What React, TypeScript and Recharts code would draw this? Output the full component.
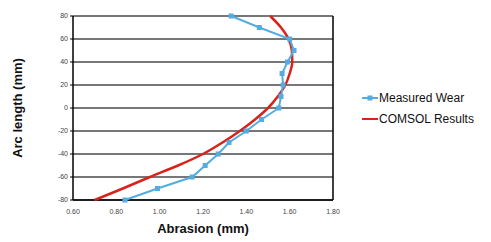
import React from 'react';
import {
  ScatterChart,
  Scatter,
  XAxis,
  YAxis,
  CartesianGrid,
  ReferenceLine,
  Label,
} from 'recharts';

// arc length positions (mm)
const measuredArc = [80, 70, 60, 50, 40, 30, 20, 10, 0, -10, -20, -30, -40, -50, -60, -70, -80];
// measured abrasion (mm)
const measuredWear = [1.33, 1.46, 1.6, 1.62, 1.59, 1.565, 1.57, 1.56, 1.55, 1.47, 1.4, 1.32, 1.27, 1.21, 1.15, 0.99, 0.84];

const comsolArc = [80, 70, 60, 50, 40, 30, 20, 10, 0, -10, -20, -30, -40, -50, -60, -70, -80];
const comsolWear = [1.51, 1.56, 1.595, 1.61, 1.612, 1.6, 1.58, 1.545, 1.5, 1.44, 1.37, 1.29, 1.2, 1.085, 0.955, 0.83, 0.7];

const xTicks = [0.6, 0.8, 1.0, 1.2, 1.4, 1.6, 1.8];
const yTicks = [-80, -60, -40, -20, 0, 20, 40, 60, 80];

const measuredData = measuredArc.map((arc, i) => ({ arc, wear: measuredWear[i] }));
const comsolData = comsolArc.map((arc, i) => ({ arc, wear: comsolWear[i] }));

const BLUE = '#55ace0';
const RED = '#d8231b';
const FONT = 'Liberation Sans, Arial, sans-serif';

const SquareDot = (props: { cx?: number; cy?: number }) => {
  const { cx = 0, cy = 0 } = props;
  return <rect x={cx - 2.5} y={cy - 2.5} width={5} height={5} fill={BLUE} />;
};

const NoDot = () => <g />;

const ChartLegend: React.FC = () => (
  <div
    style={{
      position: 'absolute',
      left: 362,
      top: 87,
      fontFamily: FONT,
      fontSize: 12,
      color: '#111',
    }}
  >
    <div style={{ display: 'flex', alignItems: 'center', height: 21 }}>
      <svg width={16} height={8} style={{ marginRight: 1 }}>
        <line x1={0} y1={4} x2={16} y2={4} stroke={BLUE} strokeWidth={2} />
        <rect x={5.5} y={1.5} width={5} height={5} fill={BLUE} />
      </svg>
      <span>Measured Wear</span>
    </div>
    <div style={{ display: 'flex', alignItems: 'center', height: 21 }}>
      <svg width={16} height={8} style={{ marginRight: 1 }}>
        <line x1={0} y1={4} x2={16} y2={4} stroke={RED} strokeWidth={2} />
      </svg>
      <span>COMSOL Results</span>
    </div>
  </div>
);

const App: React.FC = () => {
  return (
    <div style={{ position: 'absolute', left: 0, top: 0, width: 491, height: 242, background: '#fff' }}>
      <ScatterChart
        width={491}
        height={242}
        margin={{ top: 16, right: 158, left: 33, bottom: 0 }}
        style={{ fontFamily: FONT }}
      >
        <CartesianGrid vertical={false} stroke="#4a4a4a" strokeWidth={1.5} />
        <XAxis
          type="number"
          dataKey="wear"
          domain={[0.6, 1.8]}
          ticks={xTicks}
          interval={0}
          tickFormatter={(v: number) => v.toFixed(2)}
          tick={{ fontSize: 7, fill: '#444' }}
          tickLine={false}
          axisLine={{ stroke: '#000', strokeWidth: 1.5 }}
          height={42}
          tickMargin={3}
        >
          <Label
            value="Abrasion (mm)"
            position="insideBottom"
            offset={9}
            style={{ fontSize: 13, fontWeight: 700, fill: '#111' }}
          />
        </XAxis>
        <YAxis
          type="number"
          dataKey="arc"
          domain={[-80, 80]}
          ticks={yTicks}
          interval={0}
          tick={{ fontSize: 7, fill: '#444' }}
          tickSize={3}
          tickLine={{ stroke: '#000' }}
          axisLine={{ stroke: '#000', strokeWidth: 1.5 }}
          width={40}
          tickMargin={2}
        >
          <Label
            content={() => (
              <text
                x={17}
                y={108}
                transform="rotate(-90 17 108)"
                textAnchor="middle"
                dominantBaseline="central"
                style={{ fontSize: 13, fontWeight: 700, fill: '#111' }}
              >
                Arc length (mm)
              </text>
            )}
          />
        </YAxis>
        <ReferenceLine x={1.8} stroke="#000" strokeWidth={1.5} />
        <Scatter
          name="COMSOL Results"
          data={comsolData}
          line={{ stroke: RED, strokeWidth: 2.5 }}
          lineJointType="monotoneY"
          shape={<NoDot />}
          isAnimationActive={false}
        />
        <Scatter
          name="Measured Wear"
          data={measuredData}
          line={{ stroke: BLUE, strokeWidth: 2 }}
          shape={<SquareDot />}
          isAnimationActive={false}
        />
      </ScatterChart>
      <ChartLegend />
    </div>
  );
};

export default App;
